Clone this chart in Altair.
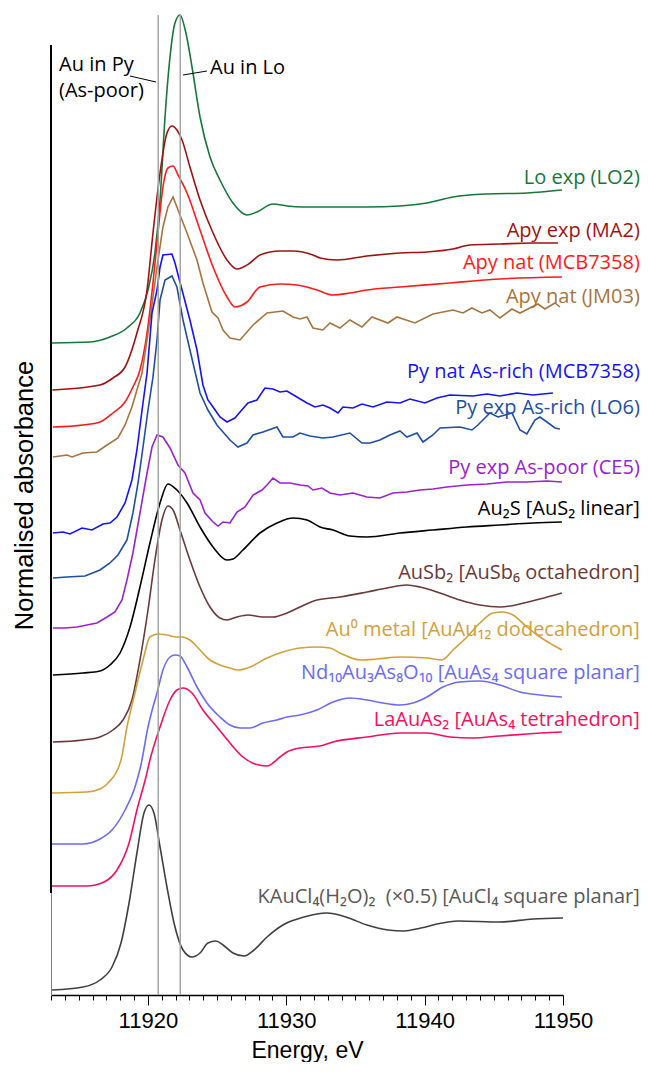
import altair as alt
import pandas as pd

# ---------------- data (energy in eV, stacked normalised absorbance) ----------------
lo2_E = [11913.05, 11915.82, 11917.26, 11918.49, 11919.43, 11920.01, 11920.51, 11920.88, 11921.24, 11921.6, 11921.96, 11922.32, 11922.75, 11923.19, 11923.77, 11924.49, 11925.21, 11926.15, 11927.16, 11927.88, 11929.04, 11930.05, 11931.21, 11933.16, 11935.83, 11938.22, 11940.17, 11942.05, 11944.5, 11947.39, 11949.92]
lo2_A = [6.52, 6.53, 6.58, 6.67, 6.82, 7.05, 7.42, 7.95, 8.78, 9.38, 9.72, 9.80, 9.62, 9.28, 8.78, 8.38, 8.15, 7.92, 7.80, 7.83, 7.91, 7.89, 7.88, 7.88, 7.88, 7.89, 7.92, 7.98, 8.01, 8.02, 8.05]

ma2_E = [11913.1, 11916.54, 11917.48, 11918.35, 11919.21, 11919.94, 11920.37, 11920.88, 11921.38, 11921.74, 11922.1, 11922.47, 11923.04, 11923.77, 11924.71, 11925.72, 11926.44, 11927.38, 11928.1, 11929.55, 11930.49, 11931.93, 11932.44, 11933.66, 11935.83, 11938.22, 11940.17, 11942.05, 11943.27, 11945.44, 11947.83, 11949.63]
ma2_A = [6.05, 6.10, 6.17, 6.28, 6.62, 7.05, 7.62, 8.22, 8.62, 8.69, 8.65, 8.55, 8.28, 7.95, 7.62, 7.35, 7.26, 7.32, 7.40, 7.44, 7.44, 7.40, 7.37, 7.35, 7.39, 7.42, 7.43, 7.46, 7.50, 7.51, 7.52, 7.52]

apy_mcb_E = [11913.14, 11915.31, 11916.54, 11917.48, 11918.35, 11918.92, 11919.43, 11919.94, 11920.37, 11920.73, 11921.09, 11921.45, 11921.82, 11922.18, 11922.83, 11923.77, 11924.71, 11925.72, 11926.29, 11927.16, 11928.1, 11929.55, 11930.77, 11932.22, 11933.38, 11934.6, 11935.83, 11938.22, 11941.83, 11943.49, 11945.44, 11949.92]
apy_mcb_A = [5.68, 5.70, 5.73, 5.82, 5.93, 6.08, 6.25, 6.62, 7.12, 7.62, 8.08, 8.27, 8.29, 8.20, 8.02, 7.65, 7.28, 6.98, 6.88, 6.93, 7.08, 7.11, 7.10, 7.05, 7.00, 7.02, 7.05, 7.08, 7.12, 7.14, 7.16, 7.18]

jm03_E = [11913.14, 11914.16, 11914.52, 11915.31, 11916.32, 11917.05, 11917.84, 11918.35, 11918.85, 11919.21, 11919.58, 11920.15, 11920.66, 11921.09, 11921.45, 11921.82, 11922.18, 11922.83, 11923.55, 11923.98, 11924.63, 11925.07, 11925.43, 11925.93, 11926.66, 11927.6, 11928.61, 11929.76, 11930.49, 11930.99, 11931.5, 11931.93, 11932.65, 11933.16, 11933.88, 11934.6, 11935.47, 11936.19, 11937.35, 11938.0, 11939.3, 11940.6, 11942.05, 11942.77, 11943.42, 11944.14, 11944.72, 11945.44, 11946.31, 11946.89, 11947.61, 11948.19, 11948.69, 11949.42, 11949.78]
jm03_A = [5.38, 5.40, 5.38, 5.42, 5.43, 5.50, 5.57, 5.70, 5.88, 6.05, 6.22, 6.75, 7.28, 7.68, 7.88, 7.98, 7.85, 7.62, 7.35, 7.12, 6.83, 6.77, 6.65, 6.57, 6.55, 6.70, 6.82, 6.84, 6.78, 6.76, 6.78, 6.67, 6.65, 6.72, 6.67, 6.75, 6.68, 6.78, 6.72, 6.78, 6.72, 6.81, 6.85, 6.82, 6.87, 6.82, 6.85, 6.77, 6.86, 6.82, 6.87, 6.91, 6.86, 6.92, 6.88]

py_mcb_E = [11913.14, 11913.87, 11914.37, 11915.24, 11915.96, 11916.76, 11917.26, 11917.77, 11918.35, 11918.85, 11919.21, 11919.58, 11919.94, 11920.3, 11920.66, 11920.88, 11921.09, 11921.74, 11921.96, 11922.47, 11923.04, 11923.55, 11923.98, 11924.34, 11924.71, 11925.21, 11925.72, 11926.29, 11926.66, 11927.23, 11927.88, 11928.46, 11929.04, 11929.55, 11930.05, 11930.77, 11931.5, 11932.08, 11932.65, 11933.16, 11933.74, 11934.1, 11934.82, 11935.47, 11936.27, 11937.28, 11938.22, 11938.94, 11940.02, 11940.89, 11941.83, 11943.49, 11944.5, 11945.44, 11946.67, 11947.83, 11949.27]
py_mcb_A = [4.62, 4.63, 4.61, 4.67, 4.65, 4.71, 4.72, 4.78, 4.92, 5.15, 5.45, 5.85, 6.22, 6.82, 7.05, 7.28, 7.40, 7.41, 7.32, 7.05, 6.75, 6.45, 6.10, 5.95, 5.88, 5.78, 5.73, 5.77, 5.83, 5.92, 5.95, 6.07, 6.06, 6.03, 6.04, 5.98, 5.92, 5.88, 5.90, 5.87, 5.82, 5.88, 5.87, 5.91, 5.88, 5.93, 5.92, 5.96, 5.92, 5.97, 6.00, 5.99, 6.01, 5.99, 6.02, 6.00, 6.02]

lo6_E = [11913.14, 11914.16, 11915.46, 11916.54, 11917.26, 11917.84, 11918.49, 11918.92, 11919.29, 11919.65, 11920.01, 11920.37, 11920.66, 11920.88, 11921.24, 11921.74, 11922.1, 11922.54, 11923.04, 11923.77, 11924.34, 11924.99, 11925.43, 11925.93, 11926.51, 11927.16, 11927.6, 11928.32, 11929.33, 11929.76, 11930.49, 11930.99, 11931.71, 11932.65, 11933.38, 11934.6, 11935.47, 11936.05, 11936.77, 11937.49, 11938.22, 11938.72, 11939.45, 11939.88, 11940.6, 11941.11, 11942.55, 11943.42, 11943.85, 11944.72, 11945.3, 11946.31, 11946.89, 11947.39, 11947.97, 11948.33, 11948.84, 11949.42, 11949.78]
lo6_A = [4.17, 4.18, 4.19, 4.25, 4.32, 4.40, 4.55, 4.82, 5.12, 5.48, 5.85, 6.18, 6.55, 6.95, 7.15, 7.19, 7.08, 6.75, 6.45, 6.02, 5.85, 5.70, 5.63, 5.55, 5.48, 5.52, 5.60, 5.63, 5.68, 5.58, 5.58, 5.62, 5.59, 5.57, 5.58, 5.62, 5.52, 5.52, 5.55, 5.60, 5.64, 5.58, 5.62, 5.53, 5.60, 5.67, 5.68, 5.65, 5.70, 5.82, 5.78, 5.82, 5.65, 5.61, 5.75, 5.78, 5.73, 5.67, 5.66]

ce5_E = [11913.14, 11914.01, 11914.88, 11915.6, 11916.32, 11917.05, 11917.62, 11918.13, 11918.49, 11918.92, 11919.43, 11919.94, 11920.3, 11920.66, 11921.09, 11921.6, 11922.18, 11922.68, 11923.26, 11923.77, 11924.13, 11924.71, 11925.07, 11925.43, 11925.93, 11926.44, 11927.02, 11927.6, 11928.25, 11928.61, 11929.04, 11929.55, 11930.27, 11930.99, 11931.57, 11931.93, 11932.58, 11933.16, 11933.88, 11934.82, 11935.83, 11936.77, 11937.71, 11938.72, 11939.66, 11940.6, 11941.61, 11943.06, 11944.5, 11945.95, 11947.39, 11948.84, 11949.92]
ce5_A = [3.67, 3.67, 3.68, 3.70, 3.72, 3.78, 3.83, 3.95, 4.15, 4.42, 4.82, 5.22, 5.48, 5.60, 5.58, 5.47, 5.30, 5.22, 5.02, 4.95, 4.82, 4.73, 4.69, 4.73, 4.72, 4.83, 4.88, 5.00, 5.05, 5.10, 5.17, 5.12, 5.12, 5.10, 5.09, 5.05, 5.07, 5.02, 5.00, 5.02, 4.98, 4.97, 5.02, 5.03, 5.05, 5.06, 5.08, 5.10, 5.11, 5.13, 5.13, 5.14, 5.13]

au2s_E = [11913.14, 11915.31, 11916.54, 11917.26, 11917.99, 11918.71, 11919.43, 11920.15, 11920.88, 11921.45, 11922.1, 11922.83, 11923.77, 11924.71, 11925.72, 11926.15, 11926.87, 11928.1, 11929.33, 11930.49, 11931.5, 11932.44, 11933.38, 11934.6, 11935.83, 11938.22, 11940.6, 11943.06, 11945.44, 11947.83, 11949.92]
au2s_A = [3.20, 3.22, 3.24, 3.30, 3.42, 3.68, 4.08, 4.52, 4.92, 5.11, 5.05, 4.92, 4.68, 4.48, 4.35, 4.36, 4.45, 4.62, 4.72, 4.77, 4.75, 4.68, 4.65, 4.59, 4.58, 4.62, 4.65, 4.68, 4.70, 4.72, 4.73]

ausb2_E = [11913.14, 11915.31, 11916.54, 11917.48, 11918.2, 11918.85, 11919.43, 11920.01, 11920.51, 11921.02, 11921.45, 11921.82, 11922.32, 11923.04, 11923.77, 11924.49, 11925.21, 11925.72, 11926.44, 11927.23, 11928.32, 11929.04, 11930.05, 11930.99, 11932.22, 11933.88, 11935.83, 11937.28, 11938.72, 11939.66, 11941.11, 11942.55, 11943.99, 11945.44, 11946.89, 11948.33, 11949.92]
ausb2_A = [2.53, 2.55, 2.58, 2.65, 2.75, 2.95, 3.35, 3.85, 4.35, 4.75, 4.89, 4.85, 4.65, 4.35, 4.08, 3.88, 3.77, 3.75, 3.78, 3.80, 3.78, 3.78, 3.82, 3.88, 3.95, 3.98, 4.03, 4.07, 4.10, 4.08, 4.02, 3.95, 3.90, 3.88, 3.91, 3.96, 4.02]

au0_E = [11913.07, 11915.6, 11916.54, 11917.12, 11918.06, 11918.49, 11919.07, 11919.65, 11920.15, 11920.73, 11921.38, 11922.1, 11922.47, 11923.04, 11923.77, 11924.49, 11925.21, 11925.93, 11926.51, 11927.38, 11928.61, 11929.76, 11930.99, 11932.22, 11933.16, 11933.88, 11935.33, 11936.55, 11938.22, 11940.17, 11941.25, 11942.05, 11943.06, 11943.99, 11944.94, 11945.66, 11946.38, 11947.39, 11948.33, 11949.27, 11949.92]
au0_A = [2.02, 2.03, 2.06, 2.12, 2.35, 2.68, 3.02, 3.35, 3.58, 3.61, 3.60, 3.58, 3.58, 3.55, 3.45, 3.35, 3.30, 3.27, 3.25, 3.28, 3.37, 3.43, 3.47, 3.48, 3.47, 3.42, 3.35, 3.36, 3.38, 3.37, 3.35, 3.45, 3.58, 3.72, 3.82, 3.83, 3.80, 3.68, 3.58, 3.50, 3.45]

nd_E = [11913.07, 11915.31, 11916.54, 11917.41, 11918.35, 11919.07, 11919.5, 11920.01, 11920.37, 11920.66, 11921.09, 11921.6, 11921.96, 11922.32, 11922.83, 11923.55, 11924.27, 11925.21, 11925.93, 11926.66, 11927.38, 11928.32, 11929.33, 11930.05, 11930.99, 11932.22, 11933.38, 11934.6, 11935.83, 11936.99, 11938.22, 11939.16, 11940.17, 11941.32, 11942.55, 11943.99, 11945.44, 11946.89, 11948.33, 11949.92]
nd_A = [1.51, 1.51, 1.56, 1.65, 1.85, 2.08, 2.30, 2.68, 2.88, 3.02, 3.25, 3.38, 3.40, 3.39, 3.28, 3.08, 2.92, 2.78, 2.70, 2.67, 2.67, 2.72, 2.75, 2.78, 2.80, 2.85, 2.93, 2.97, 2.95, 2.92, 2.90, 2.92, 2.98, 3.08, 3.13, 3.14, 3.10, 3.03, 3.00, 2.98]

la_E = [11913.07, 11915.6, 11916.83, 11917.77, 11918.64, 11919.21, 11919.86, 11920.15, 11920.88, 11921.6, 11922.1, 11922.54, 11923.19, 11923.98, 11924.99, 11925.93, 11926.87, 11927.74, 11928.61, 11929.55, 11930.05, 11930.99, 11932.44, 11933.38, 11935.83, 11938.22, 11940.17, 11941.83, 11943.49, 11945.44, 11947.39, 11949.92]
la_A = [1.09, 1.09, 1.13, 1.25, 1.52, 1.85, 2.18, 2.35, 2.68, 2.95, 3.05, 3.07, 3.02, 2.85, 2.68, 2.52, 2.38, 2.31, 2.29, 2.38, 2.43, 2.47, 2.49, 2.53, 2.58, 2.62, 2.62, 2.58, 2.57, 2.59, 2.61, 2.63]

kau_E = [11913.07, 11915.31, 11916.54, 11917.41, 11918.06, 11918.64, 11919.21, 11919.72, 11920.08, 11920.44, 11920.88, 11921.38, 11921.96, 11922.54, 11923.19, 11923.77, 11924.34, 11924.92, 11925.43, 11926.15, 11926.95, 11927.67, 11928.61, 11929.76, 11931.28, 11932.94, 11934.31, 11935.83, 11937.35, 11938.51, 11939.73, 11941.25, 11942.41, 11945.44, 11947.83, 11950.0]
kau_A = [0.05, 0.08, 0.15, 0.28, 0.52, 0.92, 1.42, 1.82, 1.90, 1.82, 1.48, 1.08, 0.68, 0.45, 0.38, 0.42, 0.52, 0.54, 0.50, 0.42, 0.39, 0.45, 0.58, 0.70, 0.78, 0.82, 0.78, 0.70, 0.65, 0.64, 0.67, 0.72, 0.74, 0.73, 0.76, 0.77]

series_names = ["Lo exp (LO2)", "Apy exp (MA2)", "Apy nat (MCB7358)", "Apy nat (JM03)",
                "Py nat As-rich (MCB7358)", "Py exp As-rich (LO6)", "Py exp As-poor (CE5)",
                "Au₂S [AuS₂ linear]", "AuSb₂ [AuSb₆ octahedron]", "Au⁰ metal [AuAu₁₂ dodecahedron]",
                "Nd₁₀Au₃As₈O₁₀ [AuAs₄ square planar]", "LaAuAs₂ [AuAs₄ tetrahedron]",
                "KAuCl₄(H₂O)₂\u00a0 (×0.5) [AuCl₄ square planar]"]
series_E = [lo2_E, ma2_E, apy_mcb_E, jm03_E, py_mcb_E, lo6_E, ce5_E, au2s_E, ausb2_E, au0_E, nd_E, la_E, kau_E]
series_A = [lo2_A, ma2_A, apy_mcb_A, jm03_A, py_mcb_A, lo6_A, ce5_A, au2s_A, ausb2_A, au0_A, nd_A, la_A, kau_A]
noisy = ["Apy nat (JM03)", "Py nat As-rich (MCB7358)", "Py exp As-rich (LO6)", "Py exp As-poor (CE5)"]

# label anchor heights (absorbance units) at right edge
label_A = [8.17, 7.64, 7.32, 6.98, 6.23, 5.87, 5.27, 4.86, 4.22, 3.65, 3.22, 2.75, 0.98]
label_E = 11955.55

# reference energies (vertical guides)
guide_E = [11920.75, 11922.34]

# ---------------- styles ----------------
line_colors = ["#17773B", "#A01212", "#FF1A1A", "#A8743E", "#1414F5", "#1E4FA3", "#9A22D0",
               "#000000", "#6B3A3A", "#D4A03A", "#6B6BF8", "#F5105C", "#404040"]
text_colors = line_colors[:-1] + ["#595959"]

rows = []
for name, E, A in zip(series_names, series_E, series_A):
    d = pd.DataFrame({"E": E, "A": A})
    d["series"] = name
    rows.append(d)
df = pd.concat(rows, ignore_index=True)

lab = pd.DataFrame({"series": series_names, "A": label_A, "E": label_E, "tc": text_colors})

xs = alt.Scale(domain=[11913, 11950], nice=False, zero=False)
ys = alt.Scale(domain=[0, 9.5], nice=False, zero=False)
cs = alt.Scale(domain=series_names, range=line_colors)

x_axis = alt.Axis(
    values=list(range(11913, 11951)), format="d",
    labelExpr="datum.value % 10 === 0 ? datum.label : ''",
    labelOverlap=False, labelFlush=False, grid=False,
    tickSize={"condition": {"test": "datum.value % 10 === 0", "value": 10}, "value": 5},
    tickColor="#000000", tickWidth=1, domainColor="#000000", domainWidth=1.5,
    labelFont="Liberation Sans", labelFontSize=22, labelColor="#000000", labelPadding=5,
    title="Energy, eV", titleFont="Liberation Sans", titleFontSize=23, titleFontWeight="normal",
    titleColor="#000000", titleY=62, titleBaseline="alphabetic",
)
y_axis = alt.Axis(
    labels=False, ticks=False, grid=False, domainColor="#7F7F7F", domainWidth=1,
    title="Normalised absorbance", titleFont="Liberation Sans", titleFontSize=25.5,
    titleFontWeight="normal", titleColor="#000000", titleAngle=270, titleX=-27, titleY=450,
    titleAlign="center", titleBaseline="middle",
)


def X(field):
    return alt.X(field, scale=xs, axis=x_axis)


def Y(field):
    return alt.Y(field, scale=ys, axis=y_axis)


base = alt.Chart(df).encode(
    x=X("E:Q"), y=Y("A:Q"),
    color=alt.Color("series:N", scale=cs, legend=None),
    detail="series:N",
)
smooth = base.transform_filter(
    alt.FieldOneOfPredicate(field="series", oneOf=[s for s in series_names if s not in noisy])
).mark_line(strokeWidth=1.6, interpolate="monotone")
rough = base.transform_filter(
    alt.FieldOneOfPredicate(field="series", oneOf=noisy)
).mark_line(strokeWidth=1.6)

guides = alt.Chart(pd.DataFrame({"E": guide_E, "y0": 0.0, "y1": 9.8})).mark_rule(
    color="#A6A6A6", strokeWidth=1.5
).encode(x=X("E:Q"), y=Y("y0:Q"), y2="y1:Q")

yline = alt.Chart(pd.DataFrame({"E": [11913.0], "y0": [1.02], "y1": [9.5]})).mark_rule(
    color="#000000", strokeWidth=2
).encode(x=X("E:Q"), y=Y("y0:Q"), y2="y1:Q")

labels = alt.Chart(lab).mark_text(
    align="right", baseline="middle", font="Open Sans", fontSize=20
).encode(
    x=X("E:Q"), y=Y("A:Q"),
    text="series:N", color=alt.Color("tc:N", scale=None),
)

ann = pd.DataFrame({
    "t": ["Au in Py", "(As-poor)", "Au in Lo"],
    "E": [11913.58, 11913.58, 11924.49],
    "A": [9.30, 9.04, 9.27],
})
ann_text = alt.Chart(ann).mark_text(
    align="left", baseline="middle", font="Open Sans", fontSize=20, color="#000000"
).encode(x=X("E:Q"), y=Y("A:Q"), text="t:N")

leaders = pd.DataFrame({
    "E0": [11918.71, 11922.54], "E1": [11920.59, 11924.27],
    "A0": [9.19, 9.20], "A1": [9.13, 9.24],
})
ann_lines = alt.Chart(leaders).mark_rule(color="#000000", strokeWidth=1).encode(
    x=X("E0:Q"), x2="E1:Q", y=Y("A0:Q"), y2="A1:Q",
)

chart = alt.layer(smooth, rough, guides, yline, labels, ann_text, ann_lines).properties(
    width=512, height=950,
    autosize=alt.AutoSizeParams(type="none"),
    padding={"left": 43, "top": 37, "right": 77, "bottom": 67},
).configure(background="white").configure_view(stroke=None)

chart.save("out.html", embed_options={"renderer": "svg", "actions": False})
